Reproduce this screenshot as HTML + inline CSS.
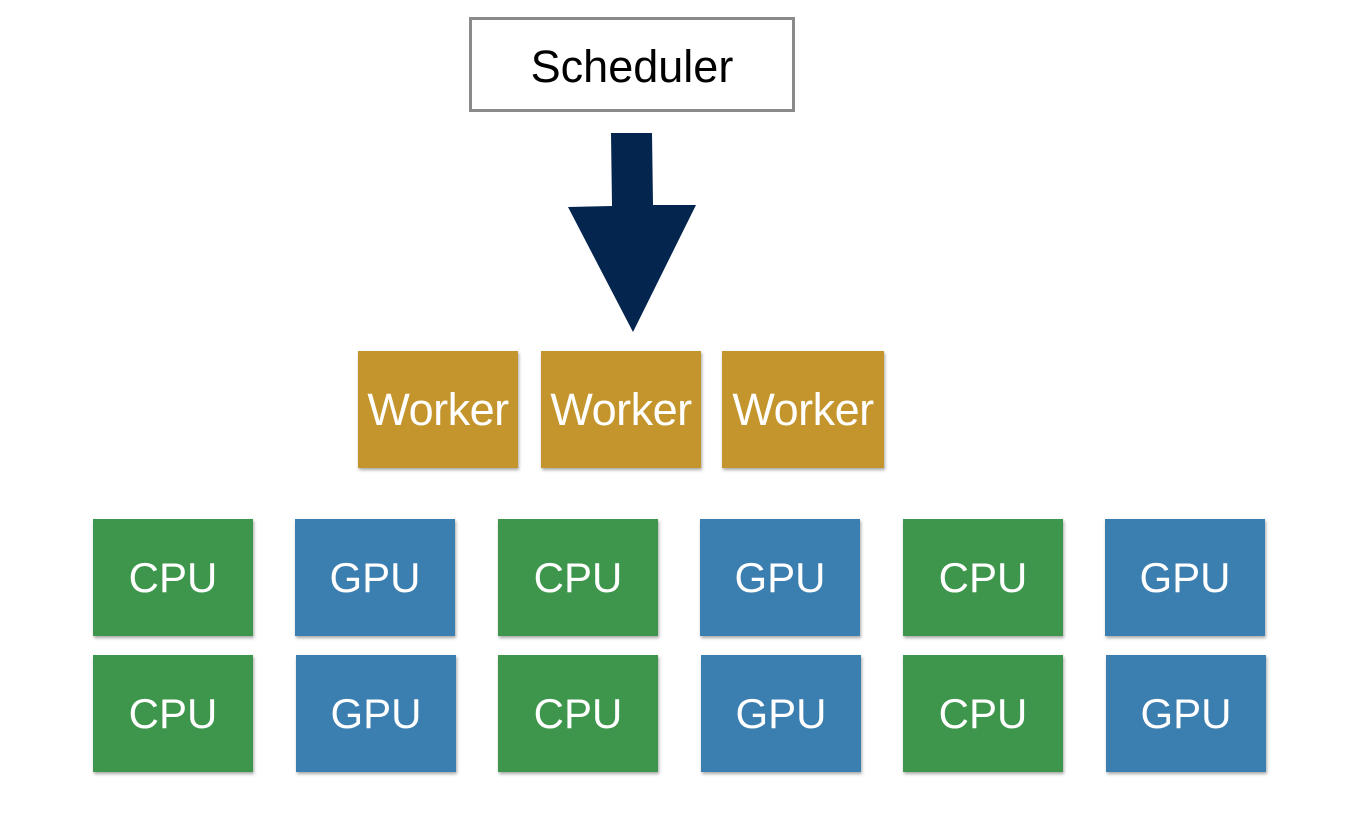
<!DOCTYPE html>
<html><head><style>
body{margin:0;width:1350px;height:828px;background:#fff;position:relative;overflow:hidden;font-family:"Liberation Sans",Arial,sans-serif}
.b{position:absolute;color:#fff;display:flex;align-items:center;justify-content:center;box-shadow:1px 2px 3px rgba(0,0,0,0.35)}
.w{background:#c4952c;font-size:45px;width:160px;height:117px;top:351px;letter-spacing:-0.5px}
.c{background:#3d964b;font-size:42px;width:160px;height:117px}
.g{background:#3b7eb0;font-size:42px;width:160px;height:117px}
</style></head><body>
<div style="position:absolute;left:469px;top:17px;width:320px;height:89px;border:3px solid #8a8a8c;display:flex;align-items:center;justify-content:center;font-size:45px;color:#000;padding-top:5px;box-sizing:content-box;height:84px">Scheduler</div>
<svg style="position:absolute;left:0;top:0" width="1350" height="828">
<polygon points="611,133 652,133 653,205 696,205 633,332 568,207 612,206" fill="#03254e"/>
</svg>
<div class="b w" style="left:358px">Worker</div>
<div class="b w" style="left:541px">Worker</div>
<div class="b w" style="left:722px;width:162px">Worker</div>

<div class="b c" style="left:93px;top:519px">CPU</div>
<div class="b g" style="left:295px;top:519px">GPU</div>
<div class="b c" style="left:498px;top:519px">CPU</div>
<div class="b g" style="left:700px;top:519px">GPU</div>
<div class="b c" style="left:903px;top:519px">CPU</div>
<div class="b g" style="left:1105px;top:519px">GPU</div>

<div class="b c" style="left:93px;top:655px">CPU</div>
<div class="b g" style="left:296px;top:655px">GPU</div>
<div class="b c" style="left:498px;top:655px">CPU</div>
<div class="b g" style="left:701px;top:655px">GPU</div>
<div class="b c" style="left:903px;top:655px">CPU</div>
<div class="b g" style="left:1106px;top:655px">GPU</div>
</body></html>
